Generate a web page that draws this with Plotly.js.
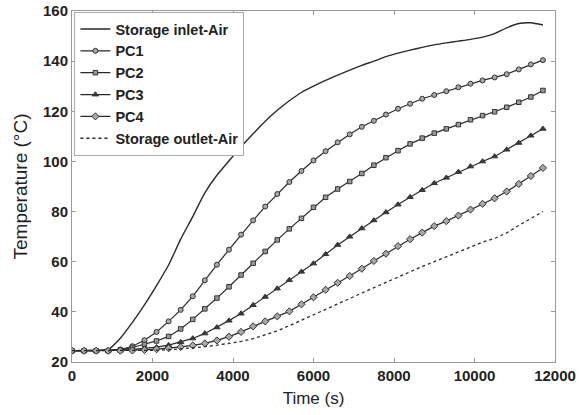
<!DOCTYPE html>
<html>
<head>
<meta charset="utf-8">
<script src="https://cdn.plot.ly/plotly-3.0.1.min.js"></script>
<style>
html,body{margin:0;padding:0;background:#fff;}
#chart{width:584px;height:415px;}
</style>
</head>
<body>
<div id="chart"></div>
<script>
// Time (s)
const timeS = [0,300,600,900,1200,1500,1800,2100,2400,2700,3000,3300,3600,3900,4200,4500,4800,5100,5400,5700,6000,6300,6600,6900,7200,7500,7800,8100,8400,8700,9000,9300,9600,9900,10200,10500,10800,11100,11400,11700];

// Temperatures (°C)
const inletAir = [24.5,24.5,24.5,25,29.5,35.8,42.8,50.5,58.7,69,78,87.5,94.5,100.2,105.8,111,116,120.4,124.2,127.5,130,132.3,134.4,136.4,138.3,140,141.8,143.2,144.4,145.5,146.5,147.3,148,148.7,149.6,151,153.3,155,155.3,154.4];
const pc1 = [24.5,24.5,24.5,24.6,25,26.3,28.7,32,36.2,40.8,46.2,52.6,58.8,64.8,70.8,76.5,82,87,91.8,96.2,100.4,104.1,107.6,110.8,113.8,116.2,118.7,121,123,125,126.5,128,129.6,131,132.3,133.5,134.8,136.7,138.7,140.4];
const pc2 = [24.5,24.5,24.5,24.5,24.8,25.8,27,28.4,30.2,33.2,37,41.2,45.5,50,54.7,59.4,64.1,68.7,73.1,77.3,81.7,85.7,89,92,95.2,98.5,101.5,104.3,107,109.3,111.3,113,114.7,116.6,118.3,119.8,121.6,123.6,125.7,128.3];
const pc3 = [24.5,24.5,24.5,24.5,24.6,25,25.4,25.9,26.7,27.9,29.4,31.4,33.8,36.5,39.3,42.7,46,49.3,52.7,56,59.3,63,66.7,70,73.3,76.5,79.7,82.8,85.8,88.6,91.3,93.5,95.8,98,100,102,104.7,107.4,110.3,113];
const pc4 = [24.5,24.5,24.5,24.5,24.5,24.6,24.8,25.1,25.5,26,26.6,27.4,28.6,30.1,32,34.2,36.2,38.2,40.2,43,45.8,48.8,51.6,54.3,57.2,60.3,63.2,66.2,69,71.6,74.2,76.2,78.4,80.8,83.1,85.3,88,91,94.2,97.4];
const outletAir = [24.5,24.5,24.5,24.5,24.5,24.5,24.6,24.7,24.9,25.2,25.6,26.1,26.7,27.4,28.2,29.3,30.7,32.4,34.5,36.6,38.7,41,43.2,45.3,47.5,49.6,51.8,54,56.2,58.1,60,62,64,66,67.8,69.3,71.5,74.5,77.3,80];

const seriesNames = ['Storage inlet-Air','PC1','PC2','PC3','PC4','Storage outlet-Air'];

const lineCol = '#2a2a2a';
const mk = (sym, fill, sz) => ({symbol: sym, size: sz, color: fill, line: {color: '#333', width: 1}});

const traces = [
  {x: timeS, y: inletAir, name: seriesNames[0], mode: 'lines', line: {color: lineCol, width: 1.4, shape: 'spline', smoothing: 0.6}},
  {x: timeS, y: pc1, name: seriesNames[1], mode: 'lines+markers', line: {color: lineCol, width: 1.2}, marker: mk('circle', '#a8a8a8', 5)},
  {x: timeS, y: pc2, name: seriesNames[2], mode: 'lines+markers', line: {color: lineCol, width: 1.2}, marker: mk('square', '#999', 4.5)},
  {x: timeS, y: pc3, name: seriesNames[3], mode: 'lines+markers', line: {color: lineCol, width: 1.2}, marker: mk('triangle-up', '#3a3a3a', 5.5)},
  {x: timeS, y: pc4, name: seriesNames[4], mode: 'lines+markers', line: {color: lineCol, width: 1.2}, marker: mk('diamond', '#a8a8a8', 5.5)},
  {x: timeS, y: outletAir, name: seriesNames[5], mode: 'lines', line: {color: lineCol, width: 1.3, dash: 'dot'}}
];

const fontFam = '"Liberation Sans", Arial, Helvetica, sans-serif';

const layout = {
  width: 584, height: 415,
  margin: {l: 72, r: 29, t: 11, b: 53},
  paper_bgcolor: '#fff', plot_bgcolor: '#fff',
  font: {family: fontFam, color: '#222'},
  showlegend: true,
  legend: {
    x: 0.005, y: 0.997, xanchor: 'left', yanchor: 'top',
    bgcolor: '#fff', bordercolor: '#aaa', borderwidth: 1,
    font: {family: fontFam, size: 14.5, weight: 'bold', color: '#222'},
    tracegroupgap: 0
  },
  xaxis: {
    range: [0, 12000], dtick: 2000, tick0: 0, tickformat: 'd',
    showgrid: false, zeroline: false,
    showline: true, linecolor: '#999', linewidth: 1, mirror: 'ticks',
    ticks: 'inside', ticklen: 4, tickcolor: '#999',
    tickfont: {family: fontFam, size: 15, weight: 'bold', color: '#222'},
    title: {text: 'Time (s)', font: {family: fontFam, size: 17, color: '#222'}, standoff: 9}
  },
  yaxis: {
    range: [20, 160], dtick: 20, tick0: 20, tickformat: 'd',
    showgrid: false, zeroline: false,
    showline: true, linecolor: '#999', linewidth: 1, mirror: 'ticks',
    ticks: 'inside', ticklen: 4, tickcolor: '#999',
    tickfont: {family: fontFam, size: 15, weight: 'bold', color: '#222'},
    title: {text: 'Temperature (°C)', font: {family: fontFam, size: 19, color: '#222'}, standoff: 10}
  }
};

Plotly.newPlot('chart', traces, layout, {displayModeBar: false, staticPlot: true});
</script>
</body>
</html>
